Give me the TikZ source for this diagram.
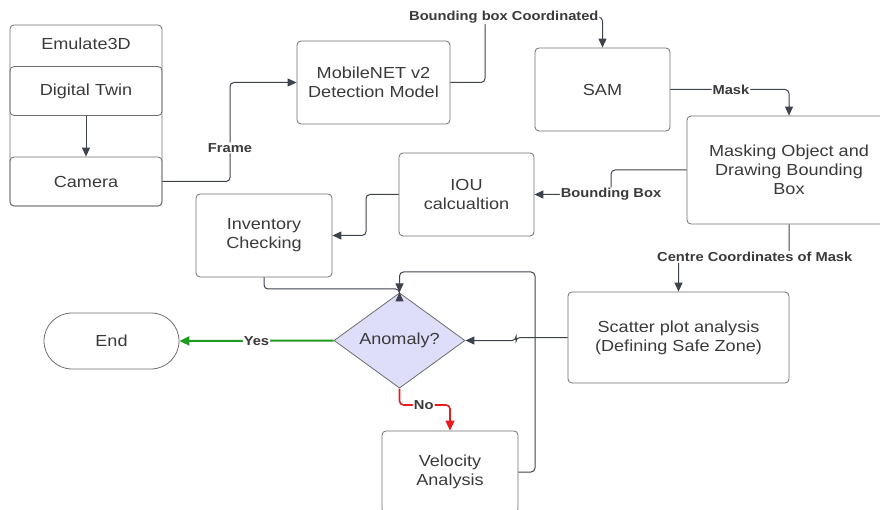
\documentclass[tikz,border=0pt]{standalone}
\usepackage{fontspec}
\setmainfont{Liberation Sans}[FakeStretch=1.13]
\usetikzlibrary{arrows.meta,positioning,shapes.geometric}

\definecolor{boxline}{HTML}{6E6E6E}
\definecolor{conline}{HTML}{3D434D}
\definecolor{txt}{HTML}{3A3A3A}
\definecolor{diafill}{HTML}{DEDEFB}
\definecolor{yesgreen}{HTML}{1E9A1E}
\definecolor{nored}{HTML}{E81C1C}

\begin{document}
\begin{tikzpicture}[x=1pt,y=-1pt,>={Triangle[length=9pt,width=8pt]},
        font=\fontsize{16}{19}\selectfont,text=txt]
            \tikzstyle{block}=[draw=boxline,line width=0.8pt,rounded corners=4pt,align=center]
            \tikzstyle{lbl}=[fill=white,inner sep=1pt,font=\bfseries\fontsize{13}{15}\selectfont]
            \tikzstyle{conn}=[->,draw=conline,line width=1pt,rounded corners=4pt]

            \clip (0,0) rectangle (880,510);

            \node[block,minimum width=152,minimum height=181] (emu)       at (86,115.5)  {};
            \node                                             (emutitle)  at (86,44)     {Emulate3D};
            \node[block,minimum width=152,minimum height=49]  (twin)      at (86,91)     {Digital Twin};
            \node[block,minimum width=152,minimum height=49]  (camera)    at (86,181.5)  {Camera};
            \node[block,minimum width=153,minimum height=83]  (mobile)    at (373.5,82.5) {MobileNET v2\\Detection Model};
            \node[block,minimum width=135,minimum height=83]  (sam)       at (602.5,89.5) {SAM};
            \node[block,minimum width=204,minimum height=108] (masking)   at (789,170)   {Masking Object and\\Drawing Bounding\\Box};
            \node[block,minimum width=135,minimum height=83]  (iou)       at (466.5,194.5) {IOU\\calcualtion};
            \node[block,minimum width=136,minimum height=83]  (inventory) at (264,235.5) {Inventory\\Checking};
            \node[block,minimum width=221,minimum height=91]  (scatter)   at (678.5,337.5) {Scatter plot analysis\\(Defining Safe Zone)};
            \node[diamond,draw=boxline,line width=0.8pt,fill=diafill,inner sep=0pt,
                  minimum width=131,minimum height=81]        (anomaly)   at (399.5,340.5) {Anomaly?};
            \node[draw=boxline,line width=0.8pt,rounded corners=28pt,
                  minimum width=135,minimum height=56]        (finish)    at (111.5,341) {End};
            \node[block,minimum width=136,minimum height=82]  (velocity)  at (450,472)   {Velocity\\Analysis};

            \draw[conn] (twin) -- (camera);
            \draw[conn] (camera.east) -- (230,181.5) -- node[lbl,pos=0.34] {Frame} (230,82.5) -- (mobile.west);
            \draw[conn] (mobile.east) -- (485,82.5) -- (485,17)
                        -- node[lbl,pos=0.16] {Bounding box Coordinated} (602.5,17) -- (sam.north);
            \draw[conn] (sam.east) -- node[lbl,pos=0.51] {Mask} (789,89.5) -- (masking.north);
            \draw[conn] (masking.west) -- (611,170) -- (611,194.5)
                        -- node[lbl,pos=0] {Bounding Box} (iou.east);
            \draw[conn] (iou.west) -- (366,194.5) -- (366,235.5) -- (inventory.east);
            \draw[conn] (masking.south) -- (789,257)
                        -- node[lbl,pos=0.31] {Centre Coordinates of Mask} (678.5,257) -- (scatter.north);
            \draw[conn] (inventory.south) -- (264,289) -- (399.5,289) -- (anomaly.north);
            \draw[conn] (velocity.east) -- (535,472) -- (535,272) -- (399.5,272) -- (anomaly.north);
            \draw[conn] (scatter.west) -- (516,337.5) -- (516,340.5) -- (anomaly.east);
            \draw[conn,draw=yesgreen,line width=2pt,-{Triangle[length=10pt,width=9pt]}]
                        (anomaly.west) -- node[lbl] {Yes} (finish.east);
            \draw[conn,draw=nored,line width=1.6pt,-{Triangle[length=10pt,width=9pt]}]
                        (anomaly.south) -- (399.5,405) -- node[lbl,pos=0.48] {No} (450,405) -- (velocity.north);
        \end{tikzpicture}
\end{document}
